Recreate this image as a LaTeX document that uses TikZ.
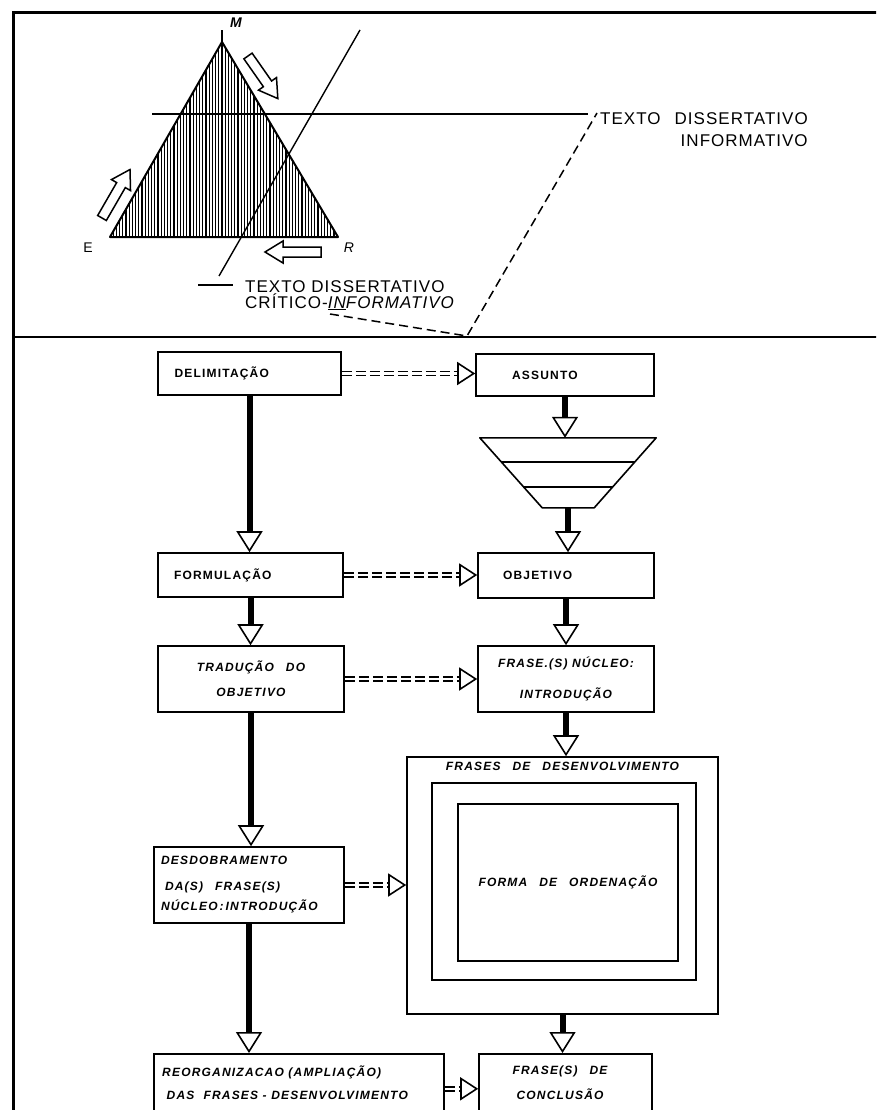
\documentclass[tikz,border=0pt]{standalone}
\usepackage{fontspec}
\setmainfont{Liberation Sans}
\newfontfamily\flowfont[LetterSpace=10]{Liberation Sans}
\newfontfamily\notefont[LetterSpace=6]{Liberation Sans}
\usetikzlibrary{arrows.meta,calc,positioning}

\tikzset{
  flowbox/.style={draw, line width=1.6pt, inner sep=0pt},
  uptext/.style={font=\flowfont\bfseries\fontsize{12}{14}\selectfont},
  ittext/.style={font=\flowfont\bfseries\itshape\fontsize{12}{#1}\selectfont},
  ittext/.default=20,
  notetext/.style={font=\notefont\fontsize{17}{#1}\selectfont, inner sep=0pt},
  notetext/.default=22,
  bigflow/.style={line width=6pt, -{Triangle[fill=white, length=21pt, width=26pt, line width=1.6pt]}},
  dashpair/.style={line width=1.6pt, double, double distance=2.5pt, dash pattern=on 10pt off 4pt},
  hollowtip/.style={-{Triangle[fill=white, length=18pt, width=23pt, line width=1.6pt]}},
  blockarrow/.style={draw, line width=1.5pt, fill=white, line join=miter}
}

% double dashed link with open head
\newcommand\dashlink[2]{%
  \draw[dashpair] (#1.east) -- ($(#1.east -| #2.west)+(-18,0)$);
  \draw[hollowtip] ($(#1.east -| #2.west)+(-18,0)$) -- (#1.east -| #2.west);
}
% hollow block arrow: at, angle, length
\newcommand\hollowarrow[3]{%
  \draw[blockarrow, shift={#1}, rotate=#2] (0,-5) -- (#3-18,-5) -- (#3-18,-11) -- (#3,0) -- (#3-18,11) -- (#3-18,5) -- (0,5) -- cycle;
}

\begin{document}
\begin{tikzpicture}[x=1pt,y=1pt,yscale=-1,xscale=1]
\useasboundingbox (0,0) rectangle (876,1110);
\clip (0,0) rectangle (876,1110);

%Shape: Frame
\draw[line width=3pt] (13.5,1115) -- (13.5,13) -- (880,13);
\draw[line width=2pt] (13.5,337) -- (880,337);

%Shape: Triangle (hatched)
\begin{scope}
  \clip (110,237) -- (222,42) -- (338,237) -- cycle;
  \foreach \x in {110,113.2,...,340} \draw[line width=1.3pt] (\x,40) -- (\x,240);
\end{scope}
\draw[line width=2pt, line join=round] (110,237) -- (222,42) -- (338,237) -- cycle;
\draw[line width=1.2pt] (222,42) -- (222,30);

%Shape: Block arrows
\hollowarrow{(248,56)}{55}{52}
\hollowarrow{(102,218)}{-60}{56}
\hollowarrow{(321,252)}{180}{56}

%Shape: Lines
\draw[line width=1.4pt] (152,114) -- (588,114);
\draw[line width=1.4pt] (360,30) -- (219,276);
\draw[line width=1.4pt] (198,285) -- (233,285);
\draw[line width=1.5pt, dash pattern=on 9pt off 5pt] (330,314) -- (467,336) -- (597,113);

% Text Node
\node[font=\notefont\bfseries\itshape\fontsize{14}{14}\selectfont] (mlabel) at (236,23) {M};
% Text Node
\node[font=\notefont\fontsize{14}{14}\selectfont] (elabel) at (88,248) {E};
% Text Node
\node[font=\notefont\itshape\fontsize{14}{14}\selectfont] (rlabel) at (349,248) {R};
% Text Node
\node[notetext=22, anchor=north west, align=right] (infotext) at (600,112) {TEXTO\hspace{14pt}DISSERTATIVO\\INFORMATIVO};
% Text Node
\node[notetext=16, anchor=north west, align=left] (crittext) at (245,280) {TEXTO DISSERTATIVO\\CRÍTICO-\textit{\underline{IN}FORMATIVO}};

% Flow boxes, left column
\node[flowbox, uptext, minimum width=183pt, minimum height=43pt, text width=150pt, align=left] (delim) at (249.5,373.5) {DELIMITAÇÃO};
\node[flowbox, uptext, minimum width=185pt, minimum height=44pt, text width=153pt, align=left] (formul) at (250.5,575) {FORMULAÇÃO};
\node[flowbox, ittext=25, minimum width=186pt, minimum height=66pt, align=center] (traducao) at (251,679) {TRADUÇÃO\quad DO\\OBJETIVO};
\node[flowbox, ittext=20, minimum width=190pt, minimum height=76pt, text width=176pt, align=left] (desdob) at (249,885) {DESDOBRAMENTO\\[6pt]\ DA(S)\quad FRASE(S)\\NÚCLEO\,:\,INTRODUÇÃO};
\node[flowbox, minimum width=290pt, minimum height=70pt, anchor=north] (reorg) at (299,1053) {};
\node[ittext=23, anchor=north west, align=left, inner sep=0pt] (reorgtext) at (162,1066) {REORGANIZACAO (AMPLIAÇÃO)\\\ DAS\ \ FRASES - DESENVOLVIMENTO};

% Flow boxes, right column
\node[flowbox, uptext, minimum width=178pt, minimum height=42pt, text width=106pt, align=left] (assunto) at (565,375) {ASSUNTO};
\node[minimum width=176pt, minimum height=70pt, inner sep=0pt] (funnel) at (568,473) {};
\draw[line width=1.6pt, line join=round] (funnel.north west) -- (funnel.north east) -- ++(-62,70) -- ++(-52,0) -- cycle;
\draw[line width=1.4pt] ($(funnel.north west)+(21.3,24)$) -- ($(funnel.north east)+(-21.3,24)$);
\draw[line width=1.4pt] ($(funnel.north west)+(43.4,49)$) -- ($(funnel.north east)+(-43.4,49)$);
\node[flowbox, uptext, minimum width=176pt, minimum height=45pt, text width=126pt, align=left] (objetivo) at (566,575.5) {OBJETIVO};
\node[flowbox, ittext=31, minimum width=176pt, minimum height=66pt, align=center] (nucleo) at (566,679) {FRASE.(S) NÚCLEO:\\INTRODUÇÃO};
\node[flowbox, minimum width=311pt, minimum height=257pt] (devbox) at (562.5,885.5) {};
\node[ittext, anchor=north, inner sep=0pt] (devtitle) at ($(devbox.north)+(0,6)$) {FRASES\quad DE\quad DESENVOLVIMENTO};
\node[flowbox, minimum width=264pt, minimum height=197pt] (devmid) at (564,881.5) {};
\node[flowbox, ittext, minimum width=220pt, minimum height=157pt] (devinner) at (568,882.5) {FORMA\quad DE\quad ORDENAÇÃO};
\node[flowbox, minimum width=173pt, minimum height=70pt, anchor=north] (conclusao) at (565.5,1053) {};
\node[ittext=25, anchor=north, align=center, inner sep=0pt] (concltext) at (560,1066) {FRASE(S)\quad DE\\CONCLUSÃO};

% Thick arrows
\draw[bigflow] (delim.south) -- (delim.south |- formul.north);
\draw[bigflow] (formul.south) -- (formul.south |- traducao.north);
\draw[bigflow] (traducao.south) -- (traducao.south |- desdob.north);
\draw[bigflow] (desdob.south) -- (desdob.south |- reorg.north);
\draw[bigflow] (assunto.south) -- (assunto.south |- funnel.north);
\draw[bigflow] (funnel.south) -- (funnel.south |- objetivo.north);
\draw[bigflow] (objetivo.south) -- (objetivo.south |- nucleo.north);
\draw[bigflow] (nucleo.south) -- (nucleo.south |- devbox.north);
\draw[bigflow] (devbox.south) -- (devbox.south |- conclusao.north);

% Dashed links
\dashlink{delim}{assunto}
\dashlink{formul}{objetivo}
\dashlink{traducao}{nucleo}
\dashlink{desdob}{devbox}
\dashlink{reorg}{conclusao}

\end{tikzpicture}
\end{document}
